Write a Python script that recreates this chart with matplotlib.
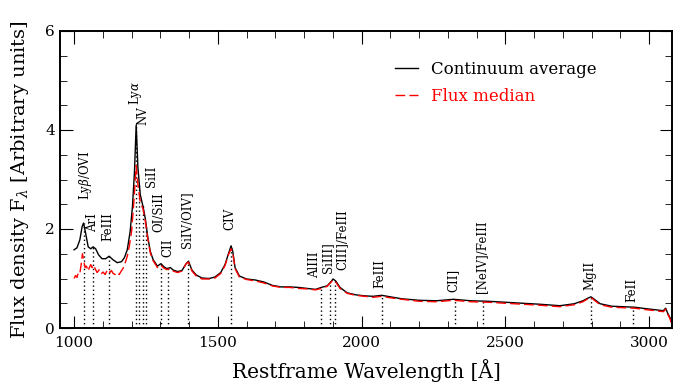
import matplotlib
matplotlib.use("Agg")
import matplotlib.pyplot as plt
import numpy as np
from matplotlib.ticker import MultipleLocator

# continuum average (black)
wl_avg = [1000, 1010, 1020, 1028, 1033, 1040, 1049, 1058, 1066, 1075, 1085, 1097,
          1110, 1122, 1135, 1150, 1165, 1175, 1185, 1195, 1203, 1210, 1216, 1222,
          1230, 1240, 1248, 1256, 1265, 1275, 1290, 1302, 1312, 1322, 1335, 1345,
          1360, 1375, 1390, 1398, 1410, 1425, 1445, 1470, 1490, 1510, 1525, 1537,
          1546, 1552, 1560, 1575, 1600, 1630, 1660, 1690, 1720, 1750, 1780, 1810,
          1840, 1860, 1880, 1893, 1901, 1910, 1925, 1950, 1980, 2010, 2040, 2070,
          2100, 2140, 2200, 2260, 2320, 2380, 2440, 2500, 2560, 2620, 2690, 2740,
          2770, 2790, 2798, 2810, 2830, 2870, 2910, 2950, 2990, 3020, 3050, 3058,
          3065, 3072, 3080]
flux_avg = [1.58, 1.62, 1.78, 2.05, 2.12, 1.92, 1.64, 1.60, 1.64, 1.60, 1.48, 1.40,
            1.40, 1.45, 1.38, 1.32, 1.34, 1.42, 1.58, 1.95, 2.45, 3.15, 4.10, 3.25,
            2.70, 2.45, 2.20, 1.85, 1.55, 1.38, 1.25, 1.30, 1.24, 1.20, 1.22, 1.17,
            1.14, 1.16, 1.30, 1.35, 1.17, 1.07, 1.01, 1.00, 1.03, 1.12, 1.28, 1.50,
            1.66, 1.55, 1.22, 1.05, 0.99, 0.97, 0.93, 0.86, 0.83, 0.83, 0.82, 0.80,
            0.78, 0.82, 0.85, 0.93, 0.99, 0.95, 0.82, 0.71, 0.67, 0.65, 0.64, 0.66,
            0.63, 0.59, 0.56, 0.55, 0.58, 0.55, 0.54, 0.52, 0.50, 0.48, 0.45, 0.49,
            0.55, 0.61, 0.63, 0.58, 0.49, 0.44, 0.43, 0.42, 0.39, 0.37, 0.35, 0.40,
            0.30, 0.22, 0.15]

# flux median (red dashed)
wl_med = [1000, 1005, 1010, 1015, 1020, 1025, 1029, 1033, 1038, 1043, 1049, 1053,
          1058, 1063, 1068, 1073, 1080, 1088, 1095, 1101, 1108, 1114, 1119, 1124,
          1130, 1136, 1143, 1150, 1157, 1163, 1170, 1177, 1185, 1192, 1200, 1208,
          1216, 1222, 1230, 1240, 1248, 1256, 1265, 1275, 1290, 1302, 1312, 1322,
          1335, 1345, 1360, 1375, 1390, 1398, 1410, 1425, 1445, 1470, 1490, 1510,
          1525, 1537, 1546, 1552, 1560, 1575, 1600, 1630, 1660, 1690, 1720, 1750,
          1780, 1810, 1840, 1860, 1880, 1893, 1901, 1910, 1925, 1950, 1980, 2010,
          2040, 2070, 2100, 2140, 2200, 2260, 2320, 2380, 2440, 2500, 2560, 2620,
          2690, 2740, 2770, 2790, 2798, 2810, 2830, 2870, 2910, 2950, 2990, 3020,
          3050, 3058, 3065, 3072, 3078, 3080]
flux_med = [1.00, 1.06, 1.02, 1.12, 1.10, 1.30, 1.50, 1.38, 1.22, 1.25, 1.15, 1.22,
            1.28, 1.22, 1.27, 1.20, 1.12, 1.18, 1.10, 1.13, 1.08, 1.15, 1.18, 1.12,
            1.16, 1.10, 1.08, 1.12, 1.08, 1.14, 1.20, 1.30, 1.45, 1.65, 1.95, 2.55,
            3.28, 2.90, 2.55, 2.40, 2.15, 1.82, 1.52, 1.36, 1.22, 1.27, 1.21, 1.18,
            1.20, 1.15, 1.12, 1.15, 1.30, 1.33, 1.15, 1.05, 0.99, 0.99, 1.01, 1.10,
            1.26, 1.48, 1.60, 1.52, 1.20, 1.03, 0.98, 0.95, 0.91, 0.85, 0.82, 0.82,
            0.80, 0.79, 0.77, 0.80, 0.84, 0.92, 0.97, 0.93, 0.80, 0.70, 0.66, 0.64,
            0.62, 0.64, 0.61, 0.58, 0.54, 0.53, 0.56, 0.53, 0.52, 0.50, 0.48, 0.46,
            0.43, 0.47, 0.53, 0.60, 0.62, 0.56, 0.47, 0.42, 0.41, 0.40, 0.37, 0.35,
            0.33, 0.38, 0.28, 0.20, 0.10, 0.00]

# emission line markers
line_pos = [1033, 1066, 1122, 1216, 1227, 1239, 1251, 1302, 1328, 1398, 1547,
            1859, 1892, 1909, 2072, 2326, 2424, 2798, 2945]

label_text = [r'Ly$\beta$/OVI', 'ArI', 'FeIII', r'Ly$\alpha$', 'NV', 'SiII',
              'OI/SiII', 'CII', 'SiIV/OIV]', 'CIV', 'AlIII', 'SiIII]',
              'CIII]/FeIII', 'FeIII', 'CII]', '[NeIV]/FeIII', 'MgII', 'FeII']
label_x = [1038, 1066, 1118, 1212, 1240, 1268, 1296, 1327, 1393, 1543, 1838,
           1883, 1932, 2064, 2318, 2419, 2795, 2941]
label_y = [2.59, 1.94, 1.76, 4.50, 4.10, 2.85, 1.94, 1.44, 1.62, 1.98, 1.01,
           1.11, 1.17, 0.81, 0.73, 0.71, 0.77, 0.53]

plt.rcParams['font.family'] = 'DejaVu Serif'
plt.rcParams['mathtext.fontset'] = 'dejavuserif'

fig, ax = plt.subplots(figsize=(6.73, 3.85), dpi=100)
fig.subplots_adjust(left=60/673, right=672/673, bottom=57/385, top=354/385)

ax.vlines(line_pos, 0, np.interp(line_pos, wl_avg, flux_avg),
          colors='black', linestyles=(0, (1, 2)), linewidth=1.0)
ax.plot(wl_avg, flux_avg, color='black', lw=1.0, label='Continuum average')
ax.plot(wl_med, flux_med, color='red', lw=1.0, dashes=(7, 3), label='Flux median')

for t, x, y in zip(label_text, label_x, label_y):
    ax.text(x, y, t, rotation=90, ha='center', va='bottom', fontsize=8.5)

ax.set_xlim(951, 3080)
ax.set_ylim(0, 6)
ax.xaxis.set_major_locator(MultipleLocator(500))
ax.xaxis.set_minor_locator(MultipleLocator(100))
ax.yaxis.set_major_locator(MultipleLocator(2))
ax.yaxis.set_minor_locator(MultipleLocator(0.5))
ax.tick_params(which='both', direction='in', top=True, right=True, labelsize=11)
ax.tick_params(which='major', length=9)
ax.tick_params(which='minor', length=5)
ax.tick_params(axis='x', pad=6)
for s in ax.spines.values():
    s.set_linewidth(1.4)

ax.set_xlabel('Restframe Wavelength [Å]', fontsize=14.5, labelpad=6)
ax.set_ylabel(r'Flux density F$_\lambda$ [Arbitrary units]', fontsize=14, labelpad=10)

leg = ax.legend(loc='upper left', bbox_to_anchor=(0.547, 0.9), frameon=False,
                borderpad=0, borderaxespad=0, fontsize=12, handlelength=1.4,
                handletextpad=0.75, labelspacing=0.6)
for txt, c in zip(leg.get_texts(), ['black', 'red']):
    txt.set_color(c)

fig.savefig('out.png', dpi=100)
